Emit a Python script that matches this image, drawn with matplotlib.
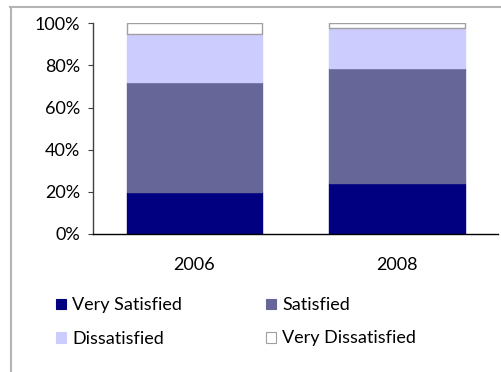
import matplotlib
matplotlib.use("Agg")
import matplotlib.pyplot as plt
from matplotlib.patches import Rectangle
from matplotlib.lines import Line2D
from matplotlib.ticker import FuncFormatter

plt.rcParams['font.family'] = ['Lato', 'DejaVu Sans']

# Survey results (percent of respondents)
years = ["2006", "2008"]
categories = ["Very Satisfied", "Satisfied", "Dissatisfied", "Very Dissatisfied"]
very_satisfied = [20, 24]
satisfied = [52, 55]
dissatisfied = [23, 19]
very_dissatisfied = [5, 2]
y_ticks = [0, 20, 40, 60, 80, 100]

series = [very_satisfied, satisfied, dissatisfied, very_dissatisfied]
colors = ["#000080", "#666699", "#CCCCFF", "#FFFFFF"]
edges = ["#000080", "#666699", "#CCCCFF", "#A0A0A0"]

W, H = 502, 372
FS = 13.0
fig = plt.figure(figsize=(W / 100, H / 100), dpi=100)

def fx(px):
    return px / W

def fy(py):
    return 1 - py / H

ax = fig.add_axes([fx(93.3), fy(234), fx(498) - fx(93.3), fy(23.3) - fy(234)])

x = list(range(len(years)))
bottom = [0] * len(years)
for vals, c, ec in zip(series, colors, edges):
    ax.bar(x, vals, width=0.67, bottom=bottom, color=c, edgecolor=ec,
           linewidth=1.0, zorder=2)
    bottom = [b + v for b, v in zip(bottom, vals)]

ax.set_xlim(-0.5, len(years) - 0.5)
ax.set_ylim(0, 100)
ax.set_yticks(y_ticks)
ax.yaxis.set_major_formatter(FuncFormatter(lambda v, p: f"{v:.0f}%"))
ax.set_xticks(x)
ax.set_xticklabels(years)

for s in ["top", "right"]:
    ax.spines[s].set_visible(False)
ax.spines["left"].set_color("#404040")
ax.spines["bottom"].set_color("#000000")
ax.spines["left"].set_linewidth(1.0)
ax.spines["bottom"].set_linewidth(1.0)

ax.tick_params(axis="y", direction="out", length=3.6, width=0.8, color="#404040",
               pad=6, labelsize=FS, labelcolor="#000000")
ax.tick_params(axis="x", length=0, pad=16.5, labelsize=FS, labelcolor="#000000")

# Legend laid out in two columns below the plot
legend_pos = [(55.7, 304), (266, 304), (55.7, 337.5), (266, 337.5)]
sq = 10.5
for (lx, ly), label, c, ec in zip(legend_pos, categories, colors, edges):
    fig.patches.append(Rectangle((fx(lx), fy(ly + sq / 2)), sq / W, sq / H,
                                 transform=fig.transFigure, facecolor=c,
                                 edgecolor=ec if c == "#FFFFFF" else c,
                                 linewidth=0.8))
    fig.text(fx(lx + 16.5), fy(ly + 1), label, fontsize=FS, va="center",
             ha="left", color="#000000")

# Chart area border
border = dict(color="#B4B4B4", linewidth=1.5, transform=fig.transFigure)
fig.lines.append(Line2D([fx(11), fx(11)], [fy(6.5), 0], **border))
fig.lines.append(Line2D([fx(10.3), fx(500)], [fy(6.5), fy(6.5)], **border))

fig.savefig("out.png", dpi=100)
